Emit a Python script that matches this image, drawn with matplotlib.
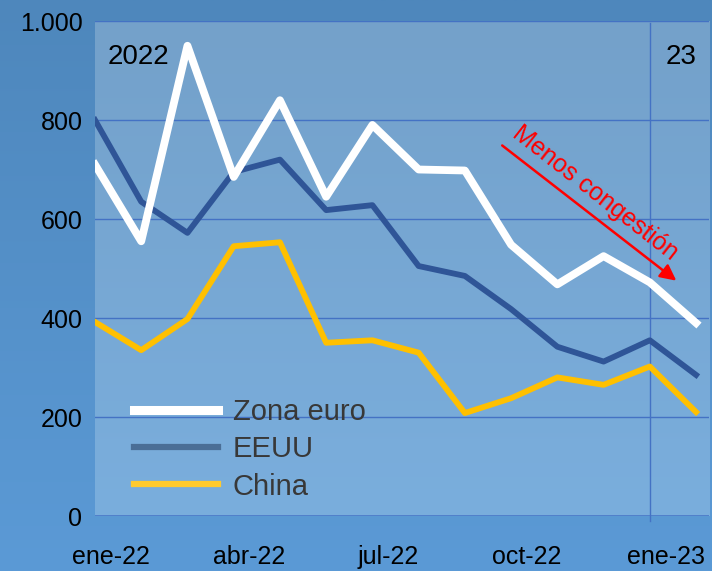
import numpy as np
import matplotlib.pyplot as plt
from matplotlib.colors import LinearSegmentedColormap
from matplotlib.lines import Line2D

plt.rcParams['font.family'] = ['Liberation Sans', 'DejaVu Sans']

# monthly congestion index, ene-22 .. feb-23
months = ['ene-22', 'feb-22', 'mar-22', 'abr-22', 'may-22', 'jun-22', 'jul-22',
          'ago-22', 'sep-22', 'oct-22', 'nov-22', 'dic-22', 'ene-23', 'feb-23']
zona_euro = [710, 555, 950, 685, 840, 645, 790, 700, 698, 548, 468, 525, 472, 390]
eeuu = [800, 635, 572, 695, 720, 618, 628, 505, 485, 418, 342, 312, 355, 285]
china = [392, 335, 398, 545, 553, 350, 355, 330, 208, 238, 280, 265, 302, 210]

tick_labels = ['ene-22', 'abr-22', 'jul-22', 'oct-22', 'ene-23']
tick_idx = [0, 3, 6, 9, 12]
yticks = [0, 200, 400, 600, 800, 1000]
ytick_labels = ['0', '200', '400', '600', '800', '1.000']

grid_col = '#4472C4'

fig = plt.figure(figsize=(7.12, 5.71), dpi=100)

# background gradient for the whole figure
bg = fig.add_axes([0, 0, 1, 1], zorder=-10)
cm_bg = LinearSegmentedColormap.from_list('bg', ['#5b9ad6', '#4e87bc'])
grad = np.linspace(0, 1, 256).reshape(-1, 1)
bg.imshow(grad, aspect='auto', cmap=cm_bg, origin='lower', extent=[0, 1, 0, 1])
bg.axis('off')

ax = fig.add_axes([0.1334, 0.0963, 0.8624, 0.8669])
ax.patch.set_alpha(0)
cm_pa = LinearSegmentedColormap.from_list('pa', ['#7aaedd', '#74a1ca'])
ax.imshow(grad, aspect='auto', cmap=cm_pa, origin='lower', extent=[0, 1, 0, 1],
          transform=ax.transAxes, zorder=0)

x = np.arange(len(months))
ax.plot(x, china, color='#FFC000', lw=4.2, zorder=3)
ax.plot(x, eeuu, color='#2F5597', lw=4.2, zorder=4)
ax.plot(x, zona_euro, color='white', lw=5.6, zorder=5)

ax.set_xlim(0, 13.28)
ax.set_ylim(0, 1000)

for y in yticks[1:]:
    ax.axhline(y, color=grid_col, lw=1, zorder=1)
ax.axhline(0, color=grid_col, lw=1.8, zorder=1)
ax.axvline(12, ymin=-0.01, ymax=0.996, color=grid_col, lw=1, zorder=2, clip_on=False)

for s in ax.spines.values():
    s.set_visible(False)

ax.set_yticks(yticks)
ax.set_yticklabels(ytick_labels)
ax.set_xticks([i + 0.34 for i in tick_idx])
ax.set_xticklabels(tick_labels)
ax.tick_params(axis='y', length=0, pad=9, labelsize=18)
ax.tick_params(axis='x', length=0, pad=21, labelsize=18)

ax.text(0.27, 928, '2022', fontsize=20, va='center', ha='left')
ax.text(13.0, 928, '23', fontsize=20, va='center', ha='right')

# arrow + label
ax.annotate('', xy=(12.62, 472), xytext=(8.76, 752),
            arrowprops=dict(arrowstyle='-|>', color='red', lw=1.8, mutation_scale=24))
ax.text(10.82, 652, 'Menos congestión', color='red', fontsize=18,
        rotation=-38, rotation_mode='anchor', ha='center', va='center')

handles = [Line2D([], [], color='white', lw=6.5),
           Line2D([], [], color='#4A6E96', lw=4.5),
           Line2D([], [], color='#FFCA2E', lw=4.5)]
leg = ax.legend(handles, ['Zona euro', 'EEUU', 'China'], loc='lower left',
                bbox_to_anchor=(0.02, -0.022), frameon=False, fontsize=21,
                handlelength=2.9, labelspacing=0.32, handletextpad=0.5)
for t in leg.get_texts():
    t.set_color('#383838')

fig.savefig('out.png', dpi=100)
